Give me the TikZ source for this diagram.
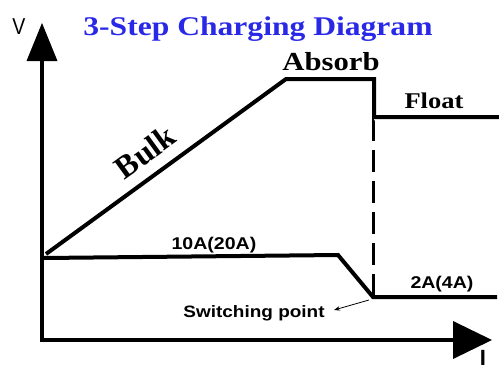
\documentclass[tikz,border=0pt]{standalone}
\usepackage{fontspec}
\setmainfont{Liberation Serif}
\setsansfont{Liberation Sans}
\usetikzlibrary{arrows.meta}
\definecolor{titleblue}{RGB}{40,40,230}
\begin{document}
\begin{tikzpicture}[x=1pt,y=-1pt,
  curve/.style={line width=4pt,line join=miter},
  axisline/.style={line width=4pt},
  head/.style={fill=black,draw=none},
  serifbig/.style={font=\bfseries\rmfamily,inner sep=0pt,xscale=1.18},
  sanslab/.style={font=\bfseries\sffamily\fontsize{17}{17}\selectfont,inner sep=0pt,xscale=1.15},
  dashline/.style={line width=3pt,dash pattern=on 22pt off 9pt}]
\useasboundingbox (0,0) rectangle (499,365);
% axes
\coordinate (origin) at (42,340);
\coordinate (ytop) at (42,58);
\coordinate (xend) at (455,340);
\draw[axisline] (ytop) -- (origin) -- (xend);
\fill[head] (42,23) -- (57.5,61) -- (26.5,61) -- cycle;
\fill[head] (492,340) -- (453,321) -- (453,359) -- cycle;
\node[font=\sffamily\fontsize{23}{23}\selectfont,inner sep=0pt,xscale=0.85] (vlab) at (19,27) {V};
\node[font=\bfseries\sffamily\fontsize{22}{22}\selectfont,inner sep=0pt,anchor=north] (ilab) at (483,350) {I};
% voltage curve
\coordinate (v0) at (46,254);
\coordinate (v1) at (286,79);
\coordinate (v2) at (374,79);
\coordinate (v3) at (374,117);
\coordinate (v4) at (500,117);
\draw[curve] (v0) -- (v1) -- (v2) -- (v3) -- (v4);
% current curve
\coordinate (c0) at (44,258);
\coordinate (c1) at (338,255);
\coordinate (c2) at (373,297);
\coordinate (c3) at (497,297);
\draw[curve] (c0) -- (c1) -- (c2) -- (c3);
% dashed switching line
\coordinate (d0) at (374,120);
\draw[dashline] (d0) -- (c2 |- d0) -- (c2);
% labels
\node[font=\bfseries\rmfamily\fontsize{27}{27}\selectfont,text=titleblue,inner sep=0pt,xscale=1.17,anchor=base] (title) at (258,35) {3-Step Charging Diagram};
\node[serifbig,font=\bfseries\rmfamily\fontsize{26}{26}\selectfont,anchor=base] (absorb) at (331,70) {Absorb};
\node[serifbig,font=\bfseries\rmfamily\fontsize{22.5}{22.5}\selectfont,anchor=base] (float) at (434,108) {Float};
\node[font=\bfseries\rmfamily\fontsize{32}{32}\selectfont,inner sep=0pt,rotate=36] (bulk) at (145,152) {Bulk};
\node[sanslab,anchor=base] (ihigh) at (214,249) {10A(20A)};
\node[sanslab,anchor=base] (ilow) at (442,288) {2A(4A)};
\node[sanslab,font=\bfseries\sffamily\fontsize{16.5}{16.5}\selectfont,anchor=base] (swp) at (254,317) {Switching point};
\coordinate (swstart) at (369,300);
\coordinate (swtip) at (334,310);
\draw[line width=0.8pt,-{Stealth[length=6pt,width=4.5pt]}] (swstart) -- (swtip);
\end{tikzpicture}
\end{document}
